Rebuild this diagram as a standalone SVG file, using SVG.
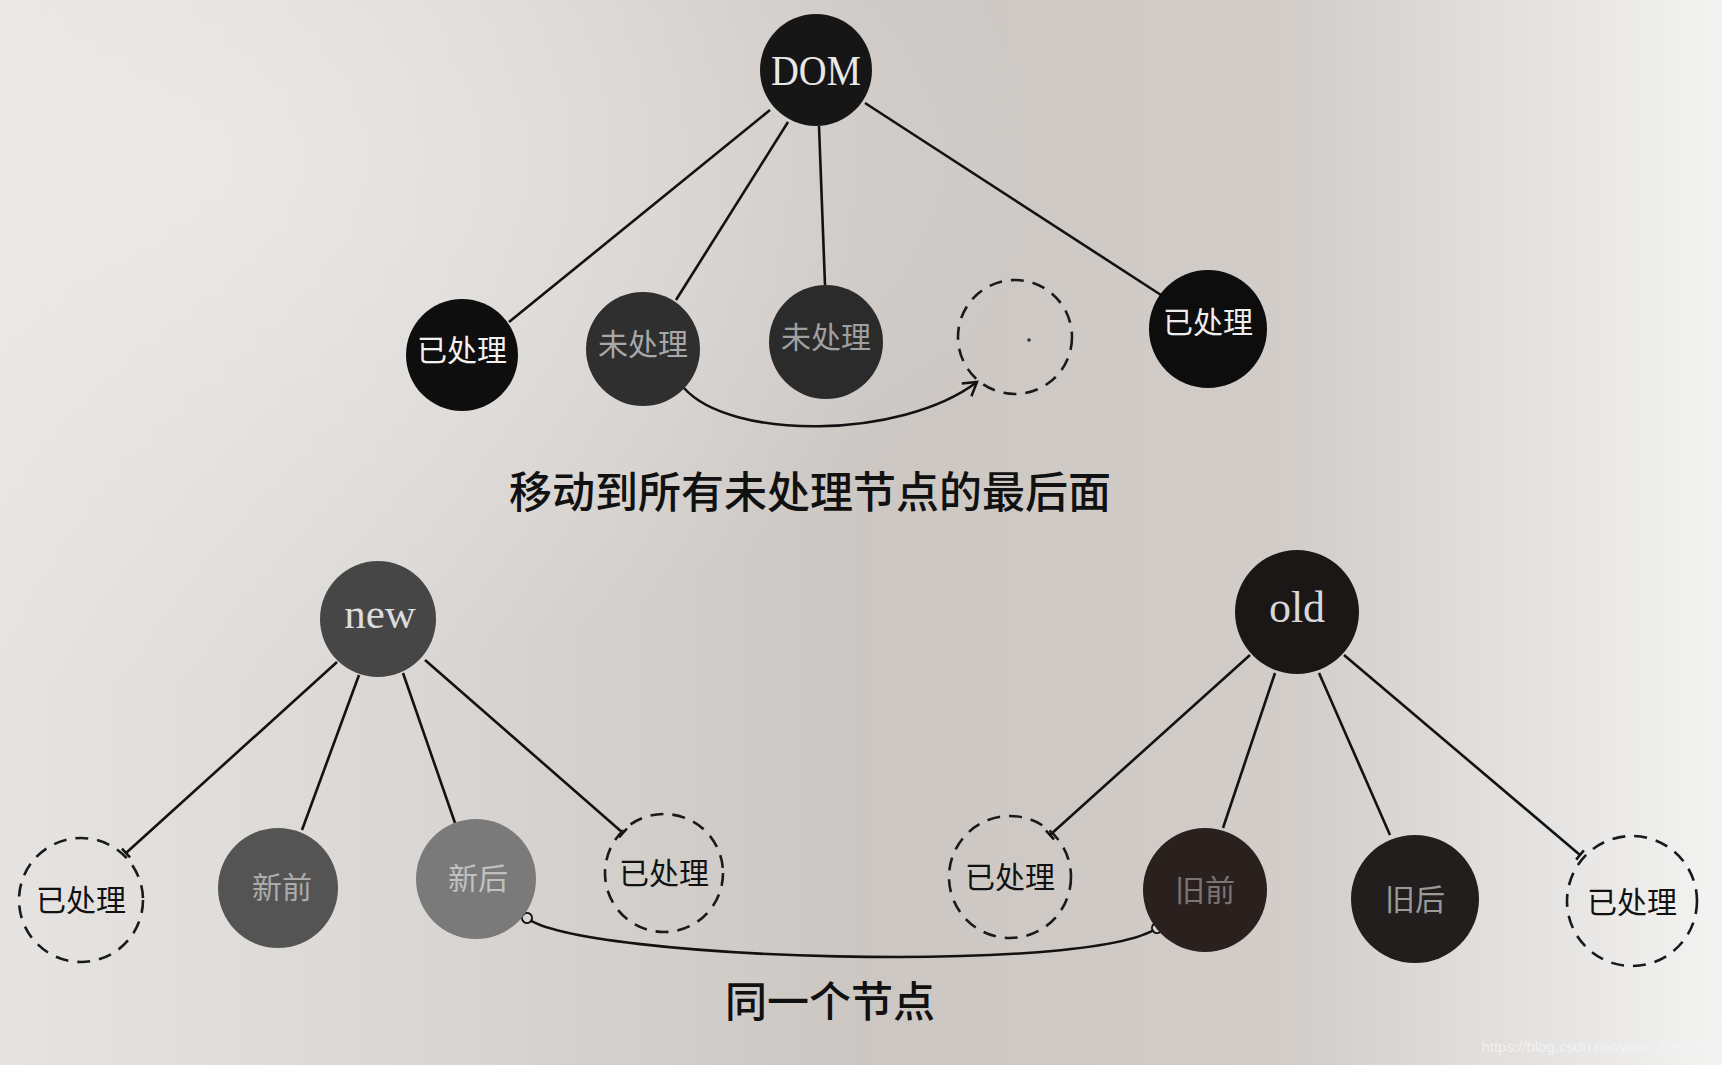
<svg xmlns="http://www.w3.org/2000/svg" width="1722" height="1065" viewBox="0 0 1722 1065">
<defs>
<linearGradient id="bg" x1="0" y1="0" x2="1" y2="0">
<stop offset="0" stop-color="#e6e4e2"/>
<stop offset="0.25" stop-color="#d9d6d3"/>
<stop offset="0.5" stop-color="#ccc7c3"/>
<stop offset="0.75" stop-color="#d2cdc9"/>
<stop offset="0.9" stop-color="#e6e4e2"/>
<stop offset="1" stop-color="#f3f3f1"/>
</linearGradient>
<radialGradient id="glow" cx="0.1" cy="0.15" r="0.5">
<stop offset="0" stop-color="#f0eeec" stop-opacity="0.7"/>
<stop offset="1" stop-color="#f0eeec" stop-opacity="0"/>
</radialGradient>
<marker id="tick" markerUnits="userSpaceOnUse" markerWidth="20" markerHeight="20" viewBox="-10 -10 20 20" refX="0" refY="0" orient="auto">
<path d="M0,-6 L0,6" stroke="#111" stroke-width="2.5" fill="none"/>
</marker>
<marker id="arrow" markerUnits="userSpaceOnUse" markerWidth="30" markerHeight="30" viewBox="-20 -15 30 30" refX="0" refY="0" orient="auto">
<path d="M-13,-8 L0,0 L-13,8" stroke="#111" stroke-width="2.5" fill="none"/>
</marker>
<marker id="ring" markerUnits="userSpaceOnUse" markerWidth="16" markerHeight="16" viewBox="-8 -8 16 16" refX="0" refY="0" orient="auto">
<circle cx="0" cy="0" r="5" fill="#d8d4d0" stroke="#111" stroke-width="2"/>
</marker>
<style>
.edge{stroke:#121212;stroke-width:2.6;fill:none}
.dash{fill:none;stroke:#1a1a1a;stroke-width:2.6;stroke-dasharray:13 9}
.lbl{font-family:"Noto Sans CJK SC","Noto Sans",sans-serif;font-size:30px;text-anchor:middle}
.en{font-family:"Liberation Serif",serif;text-anchor:middle}
.cap{font-family:"Noto Sans CJK SC",sans-serif;text-anchor:middle;fill:#111;font-weight:500}
</style>
</defs>
<rect width="1722" height="1065" fill="url(#bg)"/>
<rect width="1722" height="1065" fill="url(#glow)"/>

<g id="connectors">
<line class="edge" x1="770" y1="110" x2="509" y2="322"/>
<line class="edge" x1="788" y1="122" x2="676" y2="300"/>
<line class="edge" x1="819" y1="126" x2="825" y2="285"/>
<line class="edge" x1="865" y1="103" x2="1161" y2="295"/>
<path class="edge" d="M684,388 C730,440 900,440 977,382" marker-end="url(#arrow)"/>
<line class="edge" x1="337" y1="662" x2="126" y2="853" marker-end="url(#tick)"/>
<line class="edge" x1="359" y1="675" x2="302" y2="830"/>
<line class="edge" x1="403" y1="673" x2="455" y2="823"/>
<line class="edge" x1="425" y1="660" x2="623" y2="833" marker-end="url(#tick)"/>
<line class="edge" x1="1250" y1="655" x2="1050" y2="835" marker-end="url(#tick)"/>
<line class="edge" x1="1275" y1="673" x2="1223" y2="828"/>
<line class="edge" x1="1319" y1="673" x2="1390" y2="835"/>
<line class="edge" x1="1344" y1="655" x2="1580" y2="855" marker-end="url(#tick)"/>
<path class="edge" d="M527,918 C580,960 1090,975 1157,928" marker-start="url(#ring)" marker-end="url(#ring)"/>
</g>

<g id="dom"><circle cx="816" cy="70" r="56" fill="#161616"/><text class="en" x="816" y="85" font-size="42" fill="#e8e8e8" textLength="90" lengthAdjust="spacingAndGlyphs">DOM</text></g>
<g id="t1"><circle cx="462" cy="355" r="56" fill="#0e0e0e"/><text class="lbl" x="462" y="361" fill="#f2f2f2">已处理</text></g>
<g id="t2"><circle cx="643" cy="349" r="57" fill="#2f2f2f"/><text class="lbl" x="643" y="355" fill="#a8a8a8">未处理</text></g>
<g id="t3"><circle cx="826" cy="342" r="57" fill="#2b2b2b"/><text class="lbl" x="826" y="348" fill="#a0a0a0">未处理</text></g>
<g id="t4"><circle class="dash" cx="1015" cy="337" r="57"/><circle cx="1029" cy="340" r="1.8" fill="#333"/></g>
<g id="t5"><circle cx="1208" cy="329" r="59" fill="#0d0d0d"/><text class="lbl" x="1208" y="333" fill="#eeeeee">已处理</text></g>

<text class="cap" x="810" y="508" font-size="43">移动到所有未处理节点的最后面</text>

<g id="new"><circle cx="378" cy="619" r="58" fill="#464646"/><text class="en" x="380" y="628" font-size="43" fill="#dcdcdc">new</text></g>
<g id="b1"><circle class="dash" cx="81" cy="900" r="62"/><text class="lbl" x="81" y="911" fill="#111" font-size="32">已处理</text></g>
<g id="b2"><circle cx="278" cy="888" r="60" fill="#545454"/><text class="lbl" x="282" y="898" fill="#ababab">新前</text></g>
<g id="b3"><circle cx="476" cy="879" r="60" fill="#7a7a7a"/><text class="lbl" x="478" y="889" fill="#c0c0c0">新后</text></g>
<g id="b4"><circle class="dash" cx="664" cy="873" r="59"/><text class="lbl" x="664" y="884" fill="#111" font-size="32">已处理</text></g>

<g id="old"><circle cx="1297" cy="612" r="62" fill="#1a1716"/><text class="en" x="1297" y="622" font-size="44" fill="#d8d8d8">old</text></g>
<g id="b5"><circle class="dash" cx="1010" cy="877" r="61"/><text class="lbl" x="1010" y="888" fill="#111" font-size="32">已处理</text></g>
<g id="b6"><circle cx="1205" cy="890" r="62" fill="#2a211f"/><text class="lbl" x="1205" y="901" fill="#7a7472">旧前</text></g>
<g id="b7"><circle cx="1415" cy="899" r="64" fill="#221e1d"/><text class="lbl" x="1415" y="910" fill="#9a9a9a">旧后</text></g>
<g id="b8"><circle class="dash" cx="1632" cy="901" r="65"/><text class="lbl" x="1632" y="913" fill="#111" font-size="32">已处理</text></g>

<text class="cap" x="830" y="1017" font-size="42">同一个节点</text>
<text x="1594" y="1052" font-family="Liberation Sans, sans-serif" font-size="15" fill="#f4f4f4" text-anchor="middle" opacity="0.85">https://blog.csdn.net/yuan_me_de</text>
</svg>
